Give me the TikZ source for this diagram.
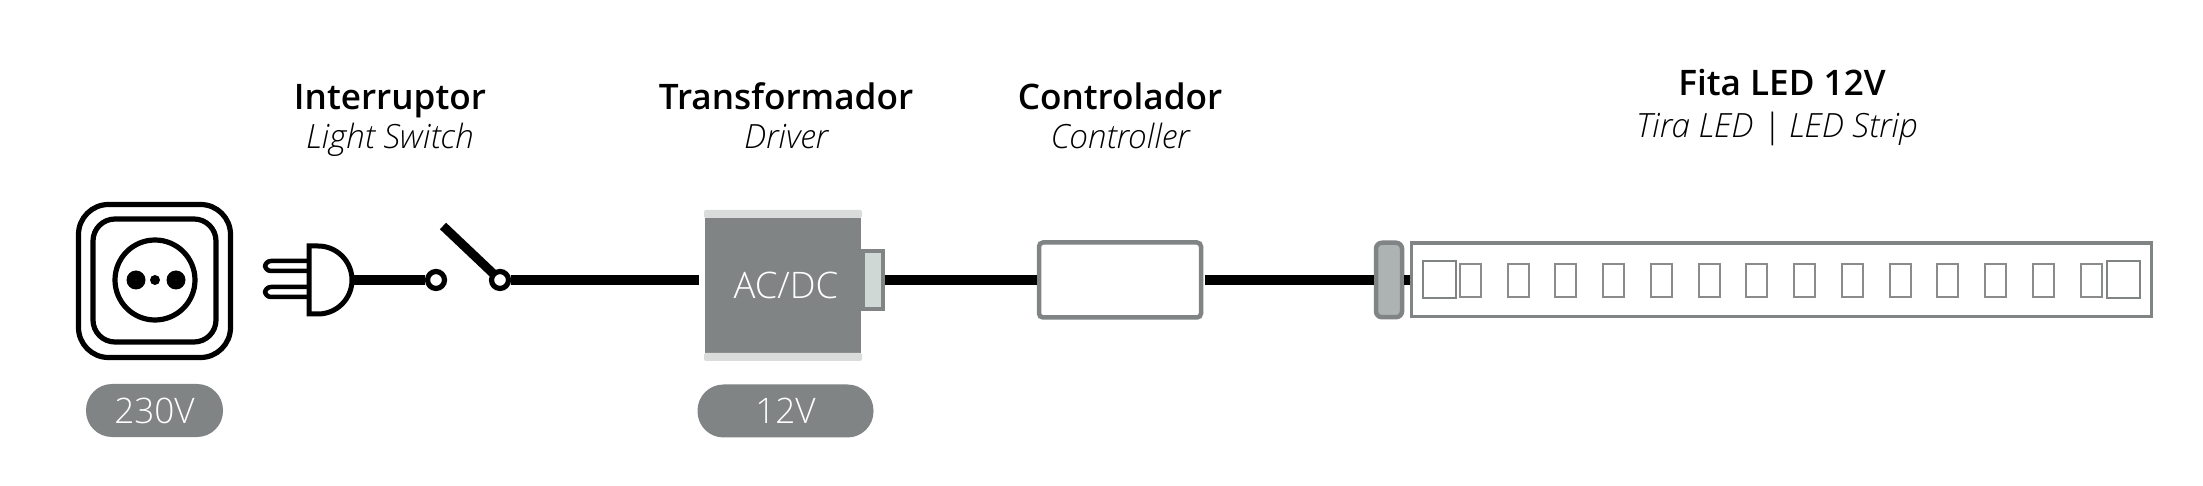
\documentclass[tikz,border=0pt]{standalone}
\usepackage{fontspec}
\setmainfont{Open Sans}
\newfontfamily\lightfont{Open Sans Light}
\newfontfamily\semifont{Open Sans Semibold}
\definecolor{devgray}{HTML}{808485}
\definecolor{bandgray}{HTML}{D9DCDB}
\definecolor{portgray}{HTML}{D0D8D5}
\definecolor{clipgray}{HTML}{ADB2B3}
\definecolor{ledgray}{HTML}{8A8C8C}
\tikzset{
    title/.style={anchor=base, font=\fontsize{10}{12}\selectfont\semifont},
    subtitle/.style={anchor=base, font=\fontsize{9.5}{11}\selectfont\lightfont\itshape},
    pill/.style={fill=devgray, text=white, rounded corners=0.26cm, minimum height=0.53cm, inner sep=0pt, font=\fontsize{10}{12}\selectfont\lightfont},
    wire/.style={line width=0.095cm},
    ring/.style={draw, line width=0.052cm, inner sep=0pt},
    led/.style={draw=ledgray, line width=0.02cm, fill=white, inner sep=0pt, minimum width=0.21cm, minimum height=0.33cm},
    bigled/.style={draw=devgray, line width=0.02cm, fill=white, inner sep=0pt, minimum width=0.33cm, minimum height=0.37cm},
    band/.style={fill=bandgray, rounded corners=0.02cm, inner sep=0pt, minimum width=1.58cm, minimum height=0.08cm},
}
\begin{document}
\begin{tikzpicture}
    \useasboundingbox (0,0) rectangle (22.03,4.85);

    % Labels on top
    \node[title] (switchtitle) at (3.90,3.75) {Interruptor};
    \node[subtitle] (switchsub) at (3.90,3.36) {Light Switch};
    \node[title] (drivertitle) at (7.86,3.75) {Transformador};
    \node[subtitle] (driversub) at (7.86,3.36) {Driver};
    \node[title] (ctrltitle) at (11.20,3.75) {Controlador};
    \node[subtitle] (ctrlsub) at (11.20,3.36) {Controller};
    \node[title] (striptitle) at (17.82,3.89) {Fita LED 12V};
    \node[subtitle] (stripsub) at (17.77,3.47) {Tira LED | LED Strip};

    % Socket
    \node[ring, rounded corners=0.30cm, minimum width=1.52cm, minimum height=1.53cm] (socket) at (1.545,2.04) {};
    \node[ring, rounded corners=0.22cm, minimum width=1.23cm, minimum height=1.23cm] (socketin) at (1.545,2.045) {};
    \node[ring, circle, minimum size=0.80cm] (socketcirc) at (1.55,2.05) {};
    \node[circle, fill, inner sep=0pt, minimum size=0.19cm] (holeleft) at (1.36,2.05) {};
    \node[circle, fill, inner sep=0pt, minimum size=0.10cm] (holemid) at (1.55,2.05) {};
    \node[circle, fill, inner sep=0pt, minimum size=0.19cm] (holeright) at (1.76,2.05) {};
    \node[pill, minimum width=1.37cm] (mains) at (1.545,0.745) {230V};

    % Plug and switch
    \node[ring, line width=0.045cm, rounded corners=0.06cm, minimum width=0.50cm, minimum height=0.10cm] (prongtop) at (2.90,2.19) {};
    \node[ring, line width=0.045cm, rounded corners=0.06cm, minimum width=0.50cm, minimum height=0.10cm] (prongbot) at (2.90,1.93) {};
    \draw[line width=0.05cm, fill=white] (3.09,2.39) -- (3.18,2.39) arc[start angle=90, end angle=-90, radius=0.34] -- (3.09,1.71) -- cycle;
    \coordinate (plug) at (3.52,2.05);
    \node[ring, circle, fill=white, minimum size=0.17cm] (term) at (4.36,2.05) {};
    \node[ring, circle, fill=white, minimum size=0.17cm] (pivot) at (5.00,2.05) {};
    \coordinate (armtop) at (4.43,2.59);
    \draw[line width=0.09cm, shorten >=-0.3pt] (armtop) -- (pivot);
    \draw[wire] (plug) -- (term);

    % Driver
    \node[draw=devgray, line width=0.04cm, fill=portgray, inner sep=0pt, minimum width=0.20cm, minimum height=0.58cm] (port) at (8.73,2.05) {};
    \node[fill=devgray, text=white, inner sep=0pt, minimum width=1.56cm, minimum height=1.35cm, font=\fontsize{10.4}{12}\selectfont\lightfont] (driver) at (7.83,1.995) {\hspace*{0.06cm}AC/DC};
    \node[band] (bandtop) at (7.83,2.71) {};
    \node[band] (bandbot) at (7.83,1.28) {};
    \node[pill, minimum width=1.76cm] (volts) at (7.855,0.74) {12V};

    % Controller
    \node[draw=devgray, line width=0.045cm, rounded corners=0.04cm, inner sep=0pt, minimum width=1.62cm, minimum height=0.75cm] (ctrl) at (11.20,2.05) {};

    % Strip
    \node[draw=devgray, line width=0.045cm, fill=clipgray, rounded corners=0.06cm, inner sep=0pt, minimum width=0.26cm, minimum height=0.745cm] (clip) at (13.89,2.05) {};
    \node[draw=devgray, line width=0.035cm, inner sep=0pt, minimum width=7.40cm, minimum height=0.735cm] (strip) at (17.815,2.05) {};
    \node[bigled] (bigledl) at (14.395,2.055) {};
    \foreach \i in {0,...,13}
        \node[led] (led\i) at ({14.705+0.4773*\i},2.045) {};
    \node[bigled] (bigledr) at (21.235,2.055) {};

    % Cable
    \draw[wire, shorten >=0.05cm] (pivot) -- (pivot -| driver.west);
    \draw[wire] (port) -- (ctrl);
    \draw[wire, shorten <=0.02cm] (ctrl) -- (clip);
    \draw[wire] (clip) -- (strip);
\end{tikzpicture}
\end{document}
